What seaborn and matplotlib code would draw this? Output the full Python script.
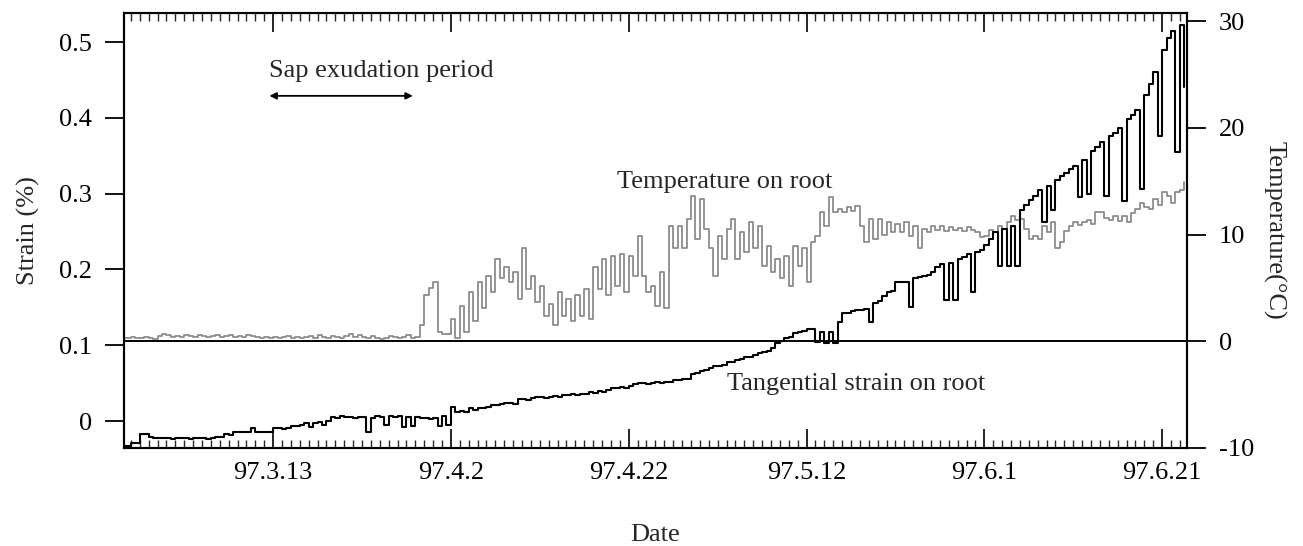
import numpy as np
import pandas as pd
import matplotlib
matplotlib.use("Agg")
import matplotlib.pyplot as plt
import matplotlib.dates as mdates
from matplotlib.ticker import FixedLocator, FixedFormatter
import seaborn as sns

# ---------------- data (12-hourly samples) ----------------
start_date = "1997-02-24"
sample_hours = 12

strain = [
    -0.033, -0.033, -0.029, -0.029, -0.017, -0.017, -0.021, -0.023, -0.023, -0.022,
    -0.023, -0.024, -0.023, -0.022, -0.023, -0.024, -0.023, -0.022, -0.023, -0.024,
    -0.023, -0.021, -0.021, -0.017, -0.019, -0.015, -0.015, -0.014, -0.015, -0.009,
    -0.015, -0.015, -0.014, -0.015, -0.009, -0.009, -0.010, -0.009, -0.007, -0.007,
    -0.005, -0.003, -0.008, -0.003, -0.001, -0.005, 0.000, 0.005, 0.004, 0.006,
    0.005, 0.005, 0.004, 0.005, 0.005, -0.015, 0.004, 0.006, 0.005, -0.005,
    0.006, 0.005, 0.007, -0.008, 0.005, -0.006, 0.005, 0.004, 0.004, 0.003,
    0.004, -0.006, 0.006, -0.005, 0.019, 0.012, 0.013, 0.012, 0.017, 0.015,
    0.017, 0.017, 0.018, 0.021, 0.021, 0.022, 0.024, 0.024, 0.023, 0.029,
    0.029, 0.028, 0.030, 0.032, 0.032, 0.031, 0.032, 0.033, 0.032, 0.034,
    0.034, 0.035, 0.034, 0.036, 0.035, 0.038, 0.037, 0.039, 0.038, 0.041,
    0.044, 0.043, 0.045, 0.044, 0.046, 0.049, 0.050, 0.050, 0.049, 0.050,
    0.051, 0.050, 0.051, 0.052, 0.054, 0.054, 0.055, 0.056, 0.062, 0.064,
    0.066, 0.067, 0.070, 0.072, 0.072, 0.074, 0.078, 0.078, 0.080, 0.082,
    0.085, 0.085, 0.087, 0.090, 0.091, 0.093, 0.096, 0.103, 0.105, 0.110,
    0.111, 0.116, 0.117, 0.119, 0.121, 0.121, 0.104, 0.118, 0.103, 0.118,
    0.103, 0.131, 0.143, 0.143, 0.145, 0.147, 0.147, 0.148, 0.131, 0.156,
    0.158, 0.165, 0.170, 0.172, 0.183, 0.184, 0.184, 0.150, 0.189, 0.190,
    0.191, 0.192, 0.196, 0.203, 0.207, 0.160, 0.209, 0.160, 0.214, 0.216,
    0.220, 0.170, 0.223, 0.226, 0.232, 0.240, 0.249, 0.204, 0.253, 0.204,
    0.257, 0.204, 0.279, 0.285, 0.292, 0.297, 0.305, 0.262, 0.310, 0.279,
    0.318, 0.323, 0.327, 0.332, 0.336, 0.295, 0.345, 0.299, 0.356, 0.362,
    0.368, 0.297, 0.376, 0.380, 0.386, 0.290, 0.398, 0.404, 0.410, 0.306,
    0.430, 0.445, 0.460, 0.376, 0.489, 0.505, 0.514, 0.355, 0.522, 0.441,
]

temperature = [
    0.3, 0.3, 0.4, 0.3, 0.3, 0.4, 0.3, 0.2, 0.5, 0.7,
    0.6, 0.4, 0.5, 0.4, 0.6, 0.5, 0.4, 0.6, 0.5, 0.4,
    0.5, 0.6, 0.4, 0.5, 0.6, 0.4, 0.5, 0.4, 0.6, 0.5,
    0.4, 0.3, 0.4, 0.3, 0.4, 0.3, 0.4, 0.5, 0.3, 0.4,
    0.3, 0.4, 0.5, 0.3, 0.6, 0.4, 0.3, 0.5, 0.4, 0.3,
    0.5, 0.7, 0.4, 0.6, 0.4, 0.3, 0.5, 0.3, 0.2, 0.3,
    0.5, 0.4, 0.3, 0.4, 0.6, 0.3, 0.4, 1.5, 4.3, 5.0,
    5.6, 0.9, 0.7, 0.7, 2.1, 0.3, 3.3, 0.9, 4.6, 1.9,
    5.6, 3.1, 6.1, 4.6, 7.7, 5.9, 7.0, 5.6, 6.5, 4.0,
    8.7, 4.9, 6.1, 3.7, 5.2, 2.4, 3.5, 1.5, 4.6, 2.4,
    4.0, 1.9, 4.3, 2.4, 4.9, 2.1, 7.0, 4.9, 7.7, 4.3,
    8.0, 5.2, 8.2, 4.6, 8.0, 6.1, 9.9, 6.1, 4.6, 5.2,
    3.3, 6.5, 3.1, 10.8, 8.7, 10.8, 8.7, 11.5, 13.6, 9.6,
    13.3, 10.5, 8.7, 6.1, 9.9, 7.7, 10.5, 11.5, 7.7, 10.2,
    8.4, 11.2, 8.7, 10.8, 7.1, 8.9, 6.5, 7.7, 5.9, 8.0,
    5.2, 8.9, 7.1, 8.7, 5.6, 9.3, 9.9, 12.1, 10.8, 13.5,
    12.1, 12.4, 12.1, 12.6, 12.2, 12.7, 10.8, 9.3, 11.5, 9.6,
    11.5, 10.0, 11.2, 10.2, 11.0, 10.2, 11.2, 9.9, 10.8, 8.7,
    10.5, 10.2, 10.8, 10.4, 10.8, 10.3, 10.7, 10.4, 10.6, 10.3,
    10.7, 10.4, 10.2, 9.8, 9.9, 10.4, 10.2, 10.8, 10.5, 11.2,
    11.7, 11.4, 11.5, 10.5, 9.6, 9.9, 9.6, 10.8, 10.2, 11.2,
    8.7, 9.3, 10.3, 10.8, 11.2, 10.9, 11.2, 11.4, 11.0, 12.1,
    12.1, 11.6, 11.4, 11.7, 11.3, 11.7, 11.2, 12.0, 12.4, 13.0,
    12.6, 12.4, 13.3, 12.8, 14.0, 13.6, 13.0, 14.0, 14.2, 14.9,
]

x_tick_dates = ["1997-03-13", "1997-04-02", "1997-04-22", "1997-05-12", "1997-06-01", "1997-06-21"]
x_tick_labels = ["97.3.13", "97.4.2", "97.4.22", "97.5.12", "97.6.1", "97.6.21"]
strain_ticks = [0.0, 0.1, 0.2, 0.3, 0.4, 0.5]
strain_tick_labels = ["0", "0.1", "0.2", "0.3", "0.4", "0.5"]
temp_ticks = [-10, 0, 10, 20, 30]
temp_tick_labels = ["-10", "0", "10", "20", "30"]

x_limits = ["1997-02-24 05:24", "1997-06-23 19:12"]
strain_limits = (-0.0356, 0.5387)
temp_limits = (-10, 30.8)

sap_period = ["1997-03-12 14:00", "1997-03-28 17:00"]
sap_level = 0.429

# ---------------- build frame ----------------
times = pd.Timestamp(start_date) + pd.to_timedelta(np.arange(len(strain)) * sample_hours, unit="h")
df = pd.DataFrame({"time": times, "strain": strain, "temperature": temperature})

sns.set_theme(style="ticks")
plt.rcParams["font.family"] = ["Liberation Serif", "DejaVu Serif"]
plt.rcParams["axes.unicode_minus"] = False
plt.rcParams["axes.linewidth"] = 1.5
plt.rcParams["axes.edgecolor"] = "black"

FS = 19

fig = plt.figure(figsize=(13.03, 5.46), dpi=100, facecolor="white")
ax = fig.add_axes([124 / 1303, 1 - 448 / 546, (1187 - 124) / 1303, (448 - 12.7) / 546])
ax2 = ax.twinx()

sns.lineplot(data=df, x="time", y="temperature", ax=ax2, color="#8c8c8c", lw=1.3,
             drawstyle="steps-post", estimator=None, sort=False)
ax2.axhline(0, color="black", lw=1.4, zorder=1)
sns.lineplot(data=df, x="time", y="strain", ax=ax, color="black", lw=1.5,
             drawstyle="steps-post", estimator=None, sort=False)

ax.set_zorder(ax2.get_zorder() + 1)
ax.patch.set_visible(False)

ax.set_xlim(pd.Timestamp(x_limits[0]), pd.Timestamp(x_limits[1]))
ax.set_ylim(*strain_limits)
ax2.set_ylim(*temp_limits)

# x ticks
ax.xaxis.set_major_locator(FixedLocator(mdates.date2num(pd.to_datetime(x_tick_dates))))
ax.xaxis.set_major_formatter(FixedFormatter(x_tick_labels))
ax.xaxis.set_minor_locator(mdates.DayLocator())
ax.tick_params(axis="x", which="major", direction="in", top=True, bottom=True,
               length=14, width=1.2, labelsize=FS, pad=10, colors="black")
ax.tick_params(axis="x", which="minor", direction="in", top=True, bottom=True,
               length=6, width=1.0)

# y ticks
ax.yaxis.set_major_locator(FixedLocator(strain_ticks))
ax.yaxis.set_major_formatter(FixedFormatter(strain_tick_labels))
ax.tick_params(axis="y", which="major", direction="out", left=True, right=False,
               length=14, width=1.3, labelsize=FS, pad=9, colors="black")
ax2.yaxis.set_major_locator(FixedLocator(temp_ticks))
ax2.yaxis.set_major_formatter(FixedFormatter(temp_tick_labels))
ax2.tick_params(axis="y", which="major", direction="out", right=True, left=False,
                length=14, width=1.3, labelsize=FS, pad=9, colors="black")

for a in (ax, ax2):
    for s in a.spines.values():
        s.set_visible(True)
        s.set_color("black")
        s.set_linewidth(1.5)

ax.set_xlabel("Date", fontsize=FS, labelpad=29)
ax.set_ylabel("Strain (%)", fontsize=FS, labelpad=14)
ax2.set_ylabel("Temperature(\u00b0C)", fontsize=FS, rotation=270, va="bottom", labelpad=6)

# annotations
ax.annotate("", xy=(pd.Timestamp(sap_period[0]), sap_level), xytext=(pd.Timestamp(sap_period[1]), sap_level),
            arrowprops=dict(arrowstyle="<|-|>", color="black", lw=1.3, mutation_scale=10,
                            shrinkA=0, shrinkB=0))
ax.text(pd.Timestamp(sap_period[0]), 0.454, "Sap exudation period", fontsize=FS,
        ha="left", va="baseline")
ax.text(pd.Timestamp("1997-04-20 17:00"), 0.307, "Temperature on root", fontsize=FS,
        ha="left", va="baseline")
ax.text(pd.Timestamp("1997-05-03 01:00"), 0.041, "Tangential strain on root", fontsize=FS,
        ha="left", va="baseline")

fig.savefig("out.png", dpi=100, facecolor="white")
